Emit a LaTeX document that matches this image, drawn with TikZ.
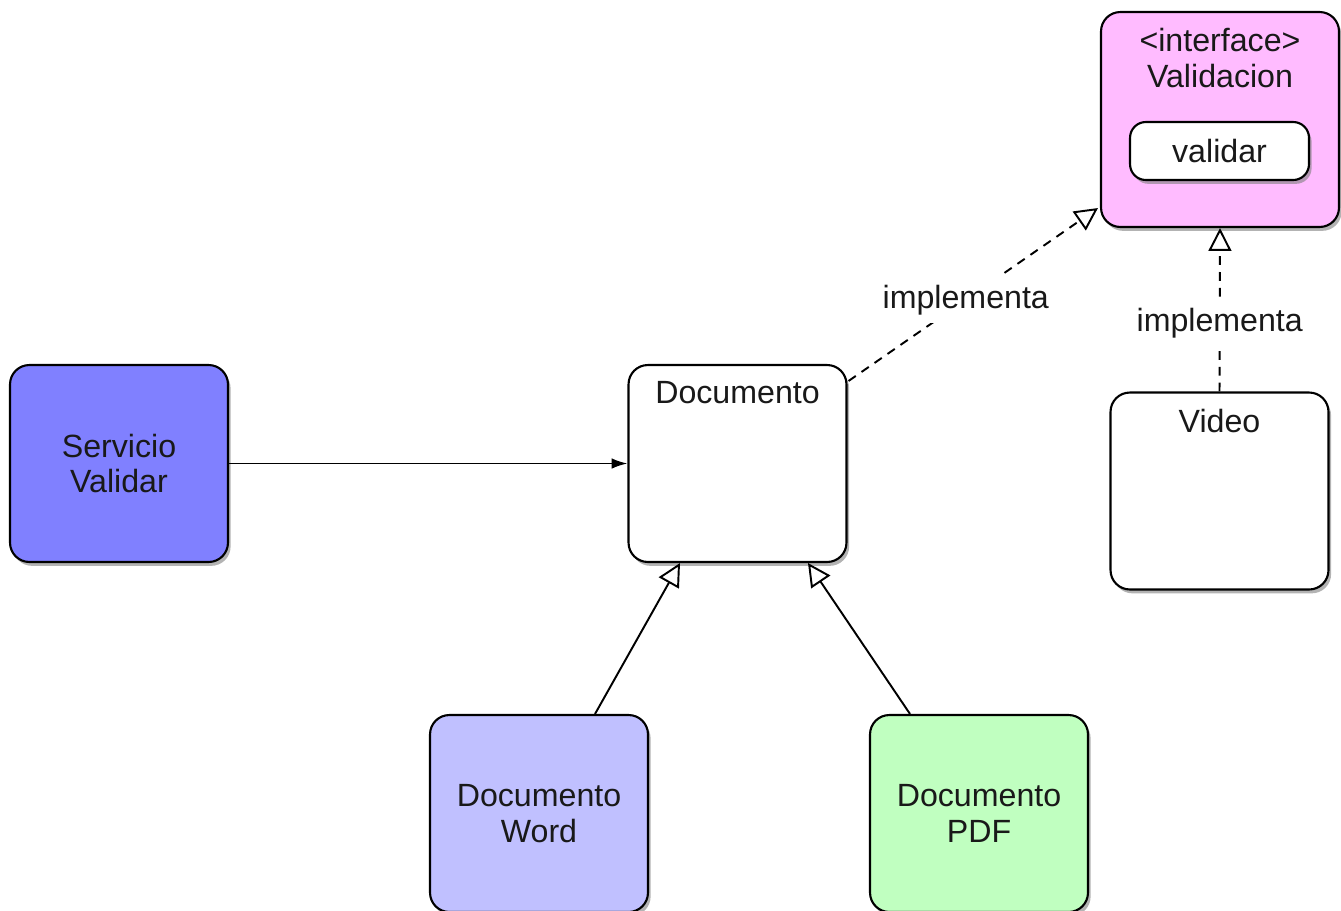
\documentclass[tikz,border=0pt]{standalone}
\usepackage{fontspec}
\setmainfont{Liberation Sans}
\usetikzlibrary{positioning,calc,shadows,arrows.meta}
\definecolor{servicio}{RGB}{128,128,255}
\definecolor{word}{RGB}{192,192,255}
\definecolor{pdf}{RGB}{192,255,192}
\definecolor{interfaz}{RGB}{255,187,255}
\tikzset{
  clase/.style={draw, fill=white, rounded corners=11pt, line width=1.2pt, minimum width=4.36cm, minimum height=3.94cm, align=center, text=black!90, drop shadow={opacity=0.6, shadow xshift=1.5pt, shadow yshift=-2.2pt}},
  titulo/.style={anchor=north, yshift=-6.5pt, align=center, text=black!90},
  hereda/.style={-{Triangle[open,length=13pt,width=13pt]}, line width=1.1pt},
  realiza/.style={hereda, dash pattern=on 5pt off 4pt},
  rotulo/.style={fill=white, inner sep=5pt, text=black!90}
}
\begin{document}
\begin{tikzpicture}[x=0.02cm, y=-0.02cm, font=\fontsize{18.3}{20.4}\selectfont]
    \useasboundingbox (0,0) rectangle (1341,910);
    % clases
    \node[clase, fill=servicio] (servicio) at (119,463.5) {Servicio\\Validar};
    \node[clase, label={[titulo]north:Documento}] (documento) at (737.5,463.5) {};
    \node[clase, fill=word] (word) at (539,813.5) {Documento\\Word};
    \node[clase, fill=pdf] (pdf) at (979,813.5) {Documento\\PDF};
    \node[clase, label={[titulo]north:Video}] (video) at (1219.5,491) {};
    % interface
    \node[clase, fill=interfaz, minimum width=4.76cm, minimum height=4.3cm,
          label={[titulo]north:{<interface>\\Validacion}}] (validacion) at (1220,119.5) {};
    \node[clase, rounded corners=9pt, minimum width=3.58cm, minimum height=1.16cm] (validar) at (1219.5,151) {validar};
    % relaciones
    \draw[-{Latex[length=9pt,width=6pt]}, line width=1.1pt] (servicio) -- (documento);
    \draw[hereda] ($(word.north)+(56,0)$) -- ($(documento.south)+(-57.5,0)$);
    \draw[hereda] ($(pdf.north)+(-69,0)$) -- ($(documento.south)+(70.5,0)$);
    \draw[realiza] ($(documento.north east)+(1,17)$) -- node[rotulo, pos=0.47] (impl1) {implementa} ($(validacion.south west)+(-2,-20)$);
    \draw[realiza] (video.north) -- node[rotulo, pos=0.42] (impl2) {implementa} (validacion.south);
\end{tikzpicture}
\end{document}
